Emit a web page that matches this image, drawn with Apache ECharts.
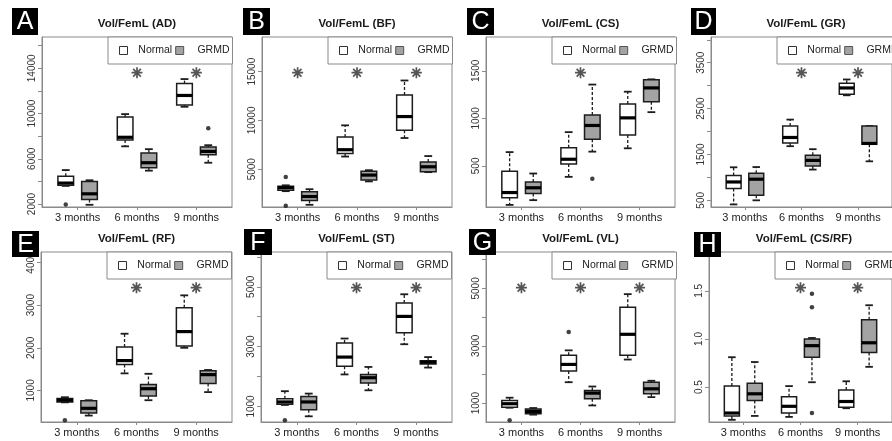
<!DOCTYPE html>
<html><head><meta charset="utf-8">
<script src="https://cdn.jsdelivr.net/npm/echarts@6/dist/echarts.min.js"></script>
<style>html,body{margin:0;padding:0;background:#fff}#c{width:892px;height:441px}</style>
</head><body><div id="c"></div>
<script>
// ---------------- DATA ----------------
const categories = ['3 months', '6 months', '9 months'];
const groups = ['Normal', 'GRMD'];
const panelLetters = ['A', 'B', 'C', 'D', 'E', 'F', 'G', 'H'];
const panelTitles = ['Vol/FemL (AD)', 'Vol/FemL (BF)', 'Vol/FemL (CS)', 'Vol/FemL (GR)',
                     'Vol/FemL (RF)', 'Vol/FemL (ST)', 'Vol/FemL (VL)', 'Vol/FemL (CS/RF)'];

// box stats per category: [lower whisker, Q1, median, Q3, upper whisker]
// outliers: [category index, value]; signif: asterisk shown per category
const AD_normal = [[3600, 3650, 3850, 4450, 5000], [7100, 7650, 7900, 9700, 9950], [10600, 10750, 11600, 12650, 13050]];
const AD_grmd   = [[1930, 2400, 2900, 4000, 4100], [4950, 5200, 5650, 6500, 6850], [5650, 6350, 6650, 7050, 7200]];
const AD_outNormal = [[0, 1950]];
const AD_outGrmd   = [[2, 8700]];
const AD_signif = [false, true, true];
const AD_ticks = [2000, 4000, 6000, 8000, 10000, 12000, 14000, 16000];
const AD_labels = [2000, 6000, 10000, 14000];

const BF_normal = [[2750, 2850, 3100, 3250, 3350], [6300, 6600, 7000, 8300, 9500], [8200, 9000, 10400, 12600, 14100]];
const BF_grmd   = [[1350, 1800, 2200, 2700, 2950], [3750, 3900, 4400, 4800, 4900], [4700, 4750, 5250, 5750, 6350]];
const BF_outNormal = [[0, 4200], [0, 1250]];
const BF_outGrmd   = [];
const BF_signif = [true, true, true];
const BF_ticks = [5000, 10000, 15000];
const BF_labels = [5000, 10000, 15000];

const CS_normal = [[90, 165, 220, 445, 645], [385, 520, 570, 690, 855], [685, 825, 1005, 1150, 1280]];
const CS_grmd   = [[140, 210, 270, 330, 420], [650, 780, 925, 1035, 1355], [1065, 1175, 1320, 1405, 1410]];
const CS_outNormal = [];
const CS_outGrmd   = [[1, 365]];
const CS_signif = [false, true, false];
const CS_ticks = [500, 1000, 1500];
const CS_labels = [500, 1000, 1500];

const GR_normal = [[410, 760, 900, 1040, 1220], [1680, 1750, 1870, 2120, 2260], [2790, 2810, 2950, 3050, 3135]];
const GR_grmd   = [[500, 610, 960, 1090, 1225], [1170, 1250, 1370, 1480, 1615], [1350, 1720, 1740, 2120, 2120]];
const GR_outNormal = [];
const GR_outGrmd   = [];
const GR_signif = [false, true, true];
const GR_ticks = [500, 1000, 1500, 2000, 2500, 3000, 3500, 4000];
const GR_labels = [500, 1500, 2500, 3500];

const RF_normal = [[720, 730, 770, 810, 840], [1400, 1610, 1700, 2020, 2330], [2000, 2040, 2380, 2940, 3230]];
const RF_grmd   = [[410, 470, 580, 760, 770], [770, 870, 1040, 1140, 1390], [960, 1160, 1370, 1460, 1480]];
const RF_outNormal = [[0, 300]];
const RF_outGrmd   = [];
const RF_signif = [false, true, true];
const RF_ticks = [1000, 2000, 3000, 4000];
const RF_labels = [1000, 2000, 3000, 4000];

const ST_normal = [[1050, 1070, 1150, 1260, 1510], [2070, 2340, 2650, 3120, 3270], [3080, 3460, 4010, 4460, 4750]];
const ST_grmd   = [[670, 890, 1150, 1330, 1430], [1540, 1780, 1960, 2070, 2320], [2300, 2420, 2480, 2530, 2650]];
const ST_outNormal = [[0, 540]];
const ST_outGrmd   = [];
const ST_signif = [false, true, true];
const ST_ticks = [1000, 2000, 3000, 4000, 5000, 6000];
const ST_labels = [1000, 3000, 5000];

const VL_normal = [[840, 860, 980, 1090, 1190], [1730, 2120, 2350, 2670, 2840], [2520, 2670, 3400, 4340, 4800]];
const VL_grmd   = [[600, 630, 710, 800, 830], [920, 1150, 1350, 1440, 1580], [1210, 1330, 1500, 1730, 1780]];
const VL_outNormal = [[0, 400], [1, 3480]];
const VL_outGrmd   = [];
const VL_signif = [true, true, true];
const VL_ticks = [1000, 2000, 3000, 4000, 5000, 6000];
const VL_labels = [1000, 3000, 5000];

const CSRF_normal = [[0.16, 0.20, 0.23, 0.51, 0.81], [0.19, 0.23, 0.30, 0.40, 0.51], [0.28, 0.29, 0.35, 0.47, 0.56]];
const CSRF_grmd   = [[0.20, 0.36, 0.43, 0.54, 0.76], [0.55, 0.81, 0.93, 1.00, 1.01], [0.71, 0.86, 0.96, 1.20, 1.35]];
const CSRF_outNormal = [];
const CSRF_outGrmd   = [[1, 1.47], [1, 1.33], [1, 0.23]];
const CSRF_signif = [false, true, true];
const CSRF_ticks = [0.5, 1.0, 1.5];
const CSRF_labels = [0.5, 1.0, 1.5];

// ---------------- LAYOUT ----------------
const panelData = [
  [AD_normal, AD_grmd, AD_outNormal, AD_outGrmd, AD_signif, AD_ticks, AD_labels],
  [BF_normal, BF_grmd, BF_outNormal, BF_outGrmd, BF_signif, BF_ticks, BF_labels],
  [CS_normal, CS_grmd, CS_outNormal, CS_outGrmd, CS_signif, CS_ticks, CS_labels],
  [GR_normal, GR_grmd, GR_outNormal, GR_outGrmd, GR_signif, GR_ticks, GR_labels],
  [RF_normal, RF_grmd, RF_outNormal, RF_outGrmd, RF_signif, RF_ticks, RF_labels],
  [ST_normal, ST_grmd, ST_outNormal, ST_outGrmd, ST_signif, ST_ticks, ST_labels],
  [VL_normal, VL_grmd, VL_outNormal, VL_outGrmd, VL_signif, VL_ticks, VL_labels],
  [CSRF_normal, CSRF_grmd, CSRF_outNormal, CSRF_outGrmd, CSRF_signif, CSRF_ticks, CSRF_labels]
];
const layout = [
  {left: 42,  top: 37,  width: 190, height: 170, min: 1735, max: 16770, box: [12, 8, 26, 27]},
  {left: 262, top: 37,  width: 190, height: 170, min: 1125, max: 18560, box: [243, 8, 27, 27]},
  {left: 486, top: 37,  width: 189, height: 170, min: 68,   max: 1855,  box: [467, 8, 27, 27]},
  {left: 711, top: 37,  width: 190, height: 170, min: 354,  max: 4061,  box: [691, 8, 25, 27]},
  {left: 41,  top: 252, width: 191, height: 170, min: 259,  max: 4247,  box: [12, 231, 27, 26]},
  {left: 261, top: 252, width: 191, height: 170, min: 480,  max: 6163,  box: [244, 229, 28, 26]},
  {left: 486, top: 252, width: 189, height: 170, min: 343,  max: 6269,  box: [469, 229, 27, 26]},
  {left: 709, top: 252, width: 190, height: 170, min: 0.137, max: 1.903, box: [694, 232, 27, 25]}
];
const boxPos = [[1, 2], [3.5, 4.5], [6, 7]];   // x position of Normal / GRMD box per category
const catCenter = [1.5, 4, 6.5];
const BOX_W = 0.66;
const FONT = '"Liberation Sans", Arial, Helvetica, sans-serif';
const FRAME = '#8a8a8a';
const GRMD_FILL = '#a3a3a3';

function renderBox(params, api) {
  const x = api.value(0);
  const c = v => api.coord([x, v]);
  const w = api.size([BOX_W, 0])[0];
  const cx = c(api.value(3))[0];
  const yLow = c(api.value(1))[1], yQ1 = c(api.value(2))[1], yMed = c(api.value(3))[1],
        yQ3 = c(api.value(4))[1], yHigh = c(api.value(5))[1];
  const fill = api.visual('color');
  const stroke = '#1c1c1c';
  return {type: 'group', children: [
    {type: 'line', shape: {x1: cx, y1: yQ3, x2: cx, y2: yHigh}, style: {stroke, lineWidth: 1.3, lineDash: [3, 2]}},
    {type: 'line', shape: {x1: cx, y1: yQ1, x2: cx, y2: yLow}, style: {stroke, lineWidth: 1.3, lineDash: [3, 2]}},
    {type: 'line', shape: {x1: cx - w / 4, y1: yHigh, x2: cx + w / 4, y2: yHigh}, style: {stroke, lineWidth: 1.8}},
    {type: 'line', shape: {x1: cx - w / 4, y1: yLow, x2: cx + w / 4, y2: yLow}, style: {stroke, lineWidth: 1.8}},
    {type: 'rect', shape: {x: cx - w / 2, y: yQ3, width: w, height: Math.max(yQ1 - yQ3, 1)}, style: {fill, stroke, lineWidth: 1.5}},
    {type: 'line', shape: {x1: cx - w / 2, y1: yMed, x2: cx + w / 2, y2: yMed}, style: {stroke: '#000', lineWidth: 3.2}}
  ]};
}

const grids = [], xAxes = [], yAxes = [], series = [], legends = [], graphics = [];
const STAR = 'path://M5,0L5,10M0,5L10,5M1.5,1.5L8.5,8.5M1.5,8.5L8.5,1.5';

layout.forEach((L, i) => {
  const [normal, grmd, outN, outG, signif, ticks, labels] = panelData[i];
  grids.push({left: L.left, top: L.top, width: L.width, height: L.height, show: true,
              borderColor: FRAME, borderWidth: 1, backgroundColor: 'transparent', containLabel: false});
  xAxes.push({type: 'value', gridIndex: i, min: 0, max: 8,
    axisLine: {show: true, lineStyle: {color: FRAME}},
    axisTick: {show: true, length: 3, lineStyle: {color: FRAME}, customValues: catCenter},
    axisLabel: {customValues: catCenter, margin: 5, fontSize: 11, color: '#222', fontFamily: FONT,
                formatter: v => categories[catCenter.indexOf(v)] || ''},
    splitLine: {show: false}});
  const isDec = i === 7;
  yAxes.push({type: 'value', gridIndex: i, min: L.min, max: L.max,
    axisLine: {show: true, lineStyle: {color: FRAME}},
    axisTick: {show: true, length: 4, lineStyle: {color: FRAME}, customValues: ticks},
    axisLabel: {customValues: labels, rotate: 90, margin: 5, fontSize: 10, color: '#333', fontFamily: FONT,
                formatter: v => isDec ? Number(v).toFixed(1) : String(Math.round(v))},
    splitLine: {show: false}});
  series.push({name: groups[0], type: 'custom', xAxisIndex: i, yAxisIndex: i, renderItem: renderBox,
    itemStyle: {color: '#ffffff'}, encode: {x: 0, y: [1, 2, 3, 4, 5]},
    data: normal.map((s, k) => [boxPos[k][0]].concat(s)), z: 3});
  series.push({name: groups[1], type: 'custom', xAxisIndex: i, yAxisIndex: i, renderItem: renderBox,
    itemStyle: {color: GRMD_FILL}, encode: {x: 0, y: [1, 2, 3, 4, 5]},
    data: grmd.map((s, k) => [boxPos[k][1]].concat(s)), z: 3});
  series.push({name: 'outliers', type: 'scatter', xAxisIndex: i, yAxisIndex: i, symbolSize: 4.5,
    itemStyle: {color: '#111'}, silent: true, z: 4,
    data: outN.map(o => [boxPos[o[0]][0], o[1]]).concat(outG.map(o => [boxPos[o[0]][1], o[1]]))});
  const starY = L.min + 0.79 * (L.max - L.min);
  series.push({name: 'significance', type: 'scatter', xAxisIndex: i, yAxisIndex: i, symbol: STAR,
    symbolSize: 11, itemStyle: {color: 'transparent', borderColor: '#2a2a2a', borderWidth: 1.7}, silent: true, z: 4,
    data: signif.map((s, k) => s ? [catCenter[k], starY] : null).filter(d => d)});
  legends.push({left: L.left + 66, top: L.top, width: 200, orient: 'horizontal', selectedMode: false,
    icon: 'rect', itemWidth: 8, itemHeight: 8, itemGap: 3,
    padding: [8, 3, 8, 11], borderColor: FRAME, borderWidth: 1, backgroundColor: '#fff', z: 5,
    textStyle: {fontSize: 10.5, color: '#222', fontFamily: FONT},
    formatter: n => n === 'Normal' ? '  Normal' : '   GRMD',
    data: [{name: 'Normal', itemStyle: {color: '#fff', borderColor: '#333', borderWidth: 1}},
           {name: 'GRMD', itemStyle: {color: GRMD_FILL, borderColor: '#555', borderWidth: 1}}]});
  graphics.push({type: 'text', z: 100, x: L.left + L.width / 2, y: L.top - 13,
    style: {text: panelTitles[i], fill: '#1a1a1a', font: 'bold 11.5px ' + FONT, textAlign: 'center', textVerticalAlign: 'middle'}});
  const b = L.box;
  graphics.push({type: 'rect', z: 100, shape: {x: b[0], y: b[1], width: b[2], height: b[3]}, style: {fill: '#000'}});
  graphics.push({type: 'text', z: 101, x: b[0] + b[2] / 2, y: b[1] + b[3] / 2 + 1,
    style: {text: panelLetters[i], fill: '#fff', font: '25px ' + FONT, textAlign: 'center', textVerticalAlign: 'middle'}});
});

const chart = echarts.init(document.getElementById('c'), null, {renderer: 'canvas'});
chart.setOption({
  animation: false,
  backgroundColor: '#fff',
  grid: grids, xAxis: xAxes, yAxis: yAxes, series: series, legend: legends,
  graphic: {elements: graphics}
});
</script>
</body></html>
